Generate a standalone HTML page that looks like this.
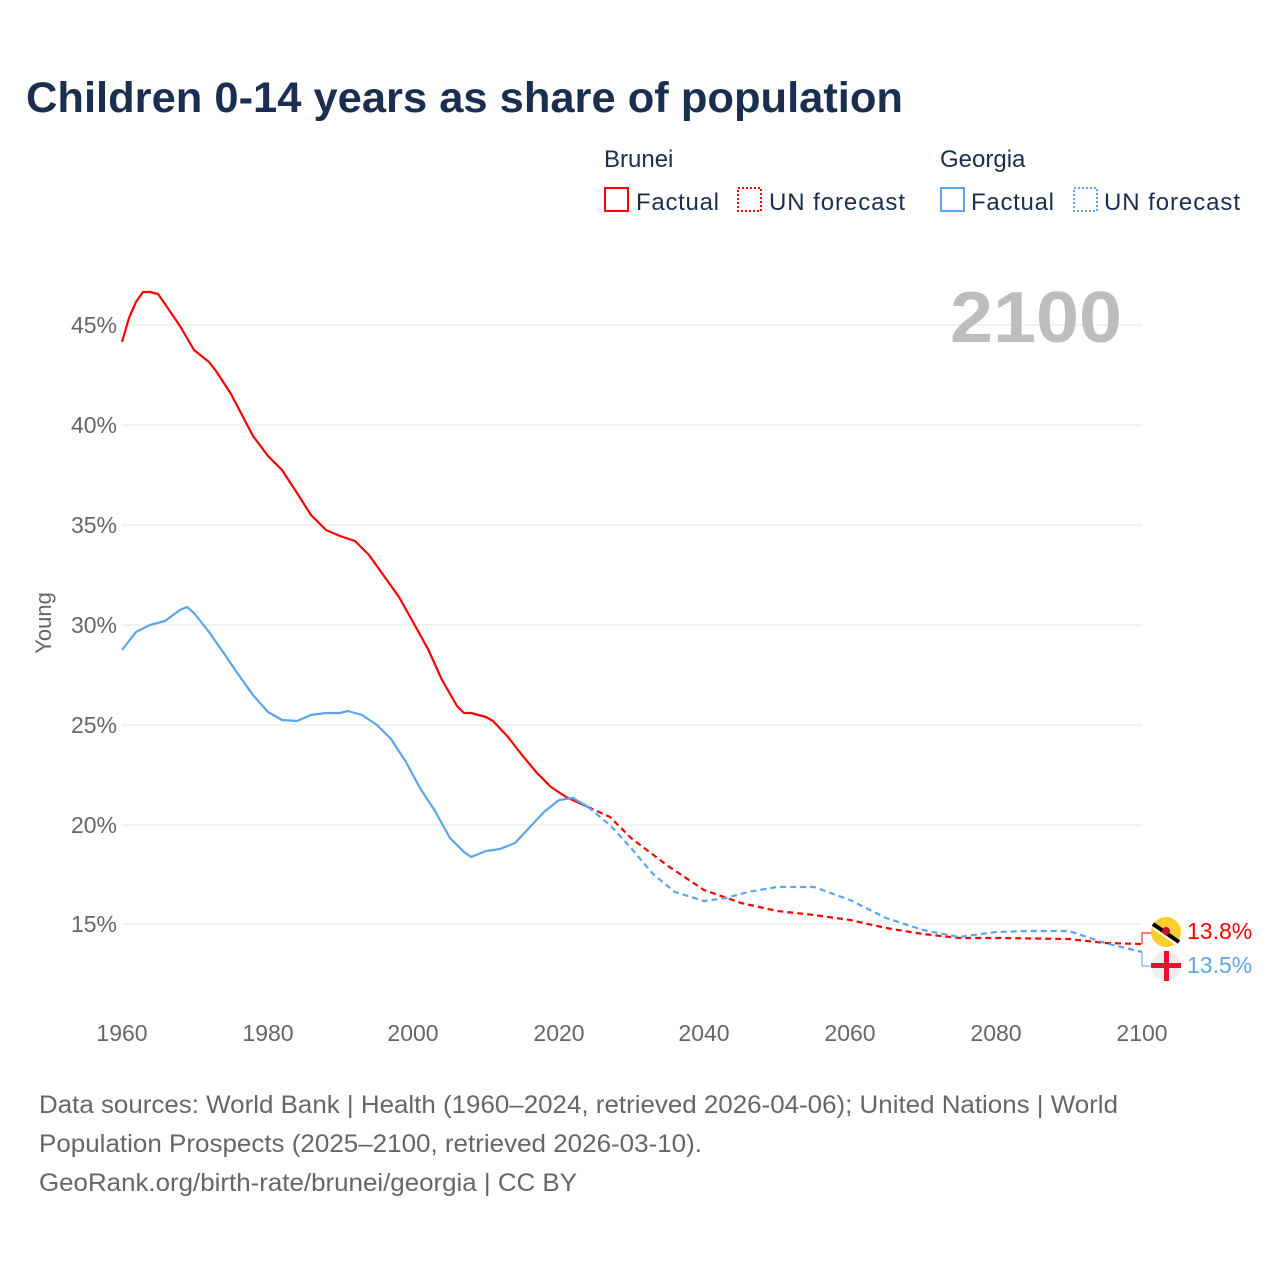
<!DOCTYPE html>
<html><head><meta charset="utf-8"><style>
body{margin:0;background:#fff;width:1280px;height:1280px;overflow:hidden;font-family:"Liberation Sans",sans-serif}
</style></head><body>
<svg width="1280" height="1280" xmlns="http://www.w3.org/2000/svg" font-family="Liberation Sans, sans-serif">
<text x="26" y="112" font-size="43" font-weight="bold" fill="#1a2e4f" textLength="877" lengthAdjust="spacingAndGlyphs">Children 0-14 years as share of population</text>
<g fill="#1a2e4f" font-size="24">
<text x="604" y="167">Brunei</text><text x="940" y="167">Georgia</text>
<text x="636" y="210" textLength="83">Factual</text><text x="769" y="210" textLength="136">UN forecast</text>
<text x="971" y="210" textLength="83">Factual</text><text x="1104" y="210" textLength="136">UN forecast</text>
</g>
<rect x="605" y="188" width="23" height="23" fill="none" stroke="#f00" stroke-width="2"/>
<rect x="738" y="188" width="23" height="23" fill="none" stroke="#f00" stroke-width="2" stroke-dasharray="2,2"/>
<rect x="941" y="188" width="23" height="23" fill="none" stroke="#5aa5ee" stroke-width="2"/>
<rect x="1074" y="188" width="23" height="23" fill="none" stroke="#5aa5ee" stroke-width="2" stroke-dasharray="2,2"/>
<g stroke="#e6e6e6" stroke-width="1">
<line x1="122" x2="1142" y1="325" y2="325"/><line x1="122" x2="1142" y1="425" y2="425"/>
<line x1="122" x2="1142" y1="525" y2="525"/><line x1="122" x2="1142" y1="625" y2="625"/>
<line x1="122" x2="1142" y1="725" y2="725"/><line x1="122" x2="1142" y1="825" y2="825"/>
<line x1="122" x2="1142" y1="924" y2="924"/>
</g>
<text x="950" y="342" font-size="72" font-weight="bold" fill="#bdbdbd" textLength="172" lengthAdjust="spacingAndGlyphs">2100</text>
<g fill="#666" font-size="23" text-anchor="end">
<text x="117" y="333">45%</text><text x="117" y="433">40%</text><text x="117" y="533">35%</text>
<text x="117" y="633">30%</text><text x="117" y="733">25%</text><text x="117" y="833">20%</text><text x="117" y="932">15%</text>
</g>
<text transform="translate(51,623) rotate(-90)" font-size="22" fill="#666" text-anchor="middle">Young</text>
<g fill="#666" font-size="23" text-anchor="middle">
<text x="122" y="1041">1960</text><text x="268" y="1041">1980</text><text x="413" y="1041">2000</text>
<text x="559" y="1041">2020</text><text x="704" y="1041">2040</text><text x="850" y="1041">2060</text>
<text x="996" y="1041">2080</text><text x="1142" y="1041">2100</text>
</g>
<g fill="none" stroke-width="2.2" stroke-linejoin="round">
<polyline stroke="#f00" points="122,342 129,318 136,302 143,292 150,292 158,294 165,304 180,326 194,350 209,362 216,371 231,394 253,436 268,456 282,470 297,493 311,515 326,530 340,536 355,541 369,555 384,576 399,597 413,622 428,649 442,680 457,706 464,713 471,713 486,717 493,721 508,737 522,755 537,773 551,787 566,797 588,807"/>
<polyline stroke="#f00" stroke-dasharray="6,4" points="588,807 610,817 631,838 668,866 704,890 741,903 777,911 814,915 850,920 886,928 923,934 959,938 996,938 1069,939 1105,943 1142,944"/>
<polyline stroke="#5aa5ee" points="122,650 136,632 150,625 165,621 180,610 187,607 194,613 209,632 223,652 238,674 253,695 268,712 282,720 297,721 311,715 326,713 340,713 348,711 362,715 377,725 391,739 406,762 420,788 435,811 450,838 464,852 471,857 486,851 500,849 515,843 529,828 544,812 559,800 573,798 588,807"/>
<polyline stroke="#5aa5ee" stroke-dasharray="6,4" points="588,807 610,825 631,848 653,874 675,892 704,901 726,898 748,892 777,887 814,887 850,900 886,918 923,930 959,937 996,932 1032,931 1069,931 1105,943 1142,952"/>
</g>
<polyline fill="none" stroke="#f00" stroke-width="1" points="1142,944 1142,933 1152,933"/>
<polyline fill="none" stroke="#5aa5ee" stroke-width="1" points="1142,952 1142,966 1152,966"/>
<circle cx="1166" cy="932" r="15" fill="#f7d02c"/>
<line x1="1153" y1="924" x2="1179" y2="942" stroke="#000" stroke-width="4"/>
<line x1="1153" y1="928" x2="1179" y2="946" stroke="#fff" stroke-width="2"/>
<circle cx="1166" cy="931" r="4" fill="#c8102e"/>
<circle cx="1166" cy="966" r="15" fill="#eee"/>
<rect x="1151" y="963" width="30" height="5" fill="#e8112d"/>
<rect x="1164" y="951" width="5" height="30" fill="#e8112d"/>
<text x="1187" y="939" font-size="23" fill="#f00">13.8%</text>
<text x="1187" y="973" font-size="23" fill="#5aa5ee">13.5%</text>
<g fill="#666" font-size="25">
<text x="39" y="1113" textLength="1079" lengthAdjust="spacingAndGlyphs">Data sources: World Bank | Health (1960–2024, retrieved 2026-04-06); United Nations | World</text>
<text x="39" y="1152" textLength="663" lengthAdjust="spacingAndGlyphs">Population Prospects (2025–2100, retrieved 2026-03-10).</text>
<text x="39" y="1191" textLength="538" lengthAdjust="spacingAndGlyphs">GeoRank.org/birth-rate/brunei/georgia | CC BY</text>
</g>
</svg>
</body></html>
